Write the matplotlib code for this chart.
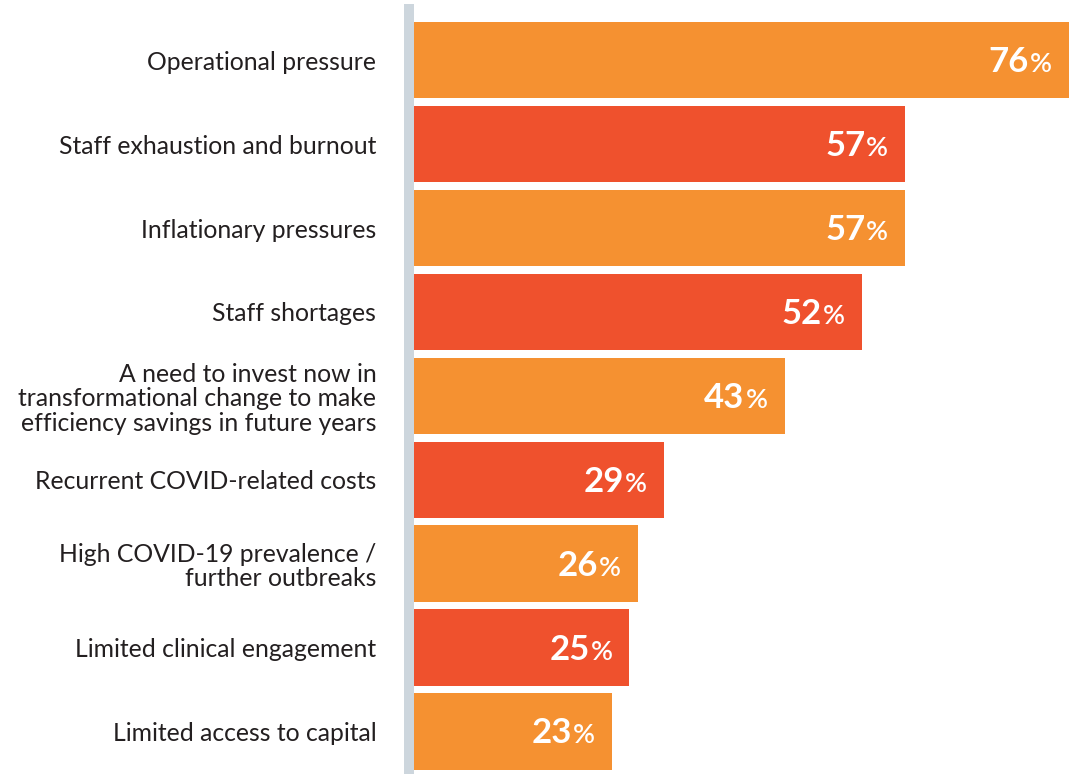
import numpy as np
import matplotlib.pyplot as plt

categories = [
    'Operational pressure',
    'Staff exhaustion and burnout',
    'Inflationary pressures',
    'Staff shortages',
    'A need to invest now in\ntransformational change to make\nefficiency savings in future years',
    'Recurrent COVID-related costs',
    'High COVID-19 prevalence /\nfurther outbreaks',
    'Limited clinical engagement',
    'Limited access to capital',
]
values = [76, 57, 57, 52, 43, 29, 26, 25, 23]

orange = '#F59131'
red = '#EF512D'
colors = [orange if i % 2 == 0 else red for i in range(len(values))]

plt.rcParams['font.family'] = ['Lato', 'DejaVu Sans']

W, H = 1069, 774
fig = plt.figure(figsize=(W / 100, H / 100), dpi=100)
ax = fig.add_axes([414 / W, 0, 1 - 414 / W, 765 / H])

y = np.arange(len(values))
ax.barh(y, values, height=0.91, color=colors, edgecolor='none')
ax.set_xlim(0, 76)
ax.set_ylim(8.507, -0.611)

for s in ['top', 'right', 'bottom']:
    ax.spines[s].set_visible(False)
ax.spines['left'].set_color('#CDD6DD')
ax.spines['left'].set_linewidth(7.2)
ax.spines['left'].set_position(('outward', 3.6))
ax.set_xticks([])
ax.set_yticks(y)
ax.set_yticklabels(categories, fontsize=17.8, color='#231F20', linespacing=1.08)
ax.tick_params(axis='y', length=0, pad=23.5)

# percent sign first, then the number placed just left of it
pcts = []
for i, v in enumerate(values):
    t = ax.annotate('%', xy=(v, i), xytext=(-17, -12), textcoords='offset pixels',
                    ha='right', va='baseline', color='white', fontsize=19.5,
                    fontweight='semibold')
    pcts.append(t)

fig.canvas.draw()
r = fig.canvas.get_renderer()
for i, v in enumerate(values):
    w = pcts[i].get_window_extent(r).width
    ax.annotate(str(v), xy=(v, i), xytext=(-17 - w - 1, -12), textcoords='offset pixels',
                ha='right', va='baseline', color='white', fontsize=25,
                fontweight='bold')

fig.savefig('out.png', dpi=100)
